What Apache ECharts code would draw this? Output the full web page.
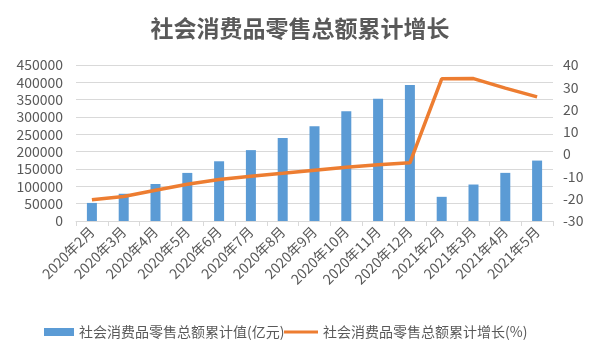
<!DOCTYPE html>
<html><head><meta charset="utf-8">
<script src="https://cdn.jsdelivr.net/npm/echarts@6/dist/echarts.min.js"></script>
<style>html,body{margin:0;padding:0;background:#fff}#c{width:600px;height:360px}</style>
</head><body><div id="c"></div>
<script>
const categories = ['2020年2月','2020年3月','2020年4月','2020年5月','2020年6月','2020年7月','2020年8月','2020年9月','2020年10月','2020年11月','2020年12月','2021年2月','2021年3月','2021年4月','2021年5月'];
const retailValue = [52130, 78580, 106758, 138730, 172256, 204459, 239456, 273324, 316263, 352365, 391981, 69737, 105221, 138849, 174319];
const retailGrowth = [-20.5, -19.0, -16.2, -13.5, -11.4, -9.9, -8.6, -7.2, -5.9, -4.8, -3.9, 33.8, 33.9, 29.6, 25.7];
const leftTicks = {min: 0, max: 450000, interval: 50000};
const rightTicks = {min: -30, max: 40, interval: 10};
const seriesNames = ['社会消费品零售总额累计值(亿元)', '社会消费品零售总额累计增长(%)'];
const titleText = '社会消费品零售总额累计增长';

const font = '"Microsoft YaHei","Noto Sans CJK SC",sans-serif';
const txt = {fontSize: 14, color: '#595959', fontFamily: font};
const chart = echarts.init(document.getElementById('c'));
chart.setOption({
  animation: false,
  title: {text: titleText, left: 'center', top: 12,
    textStyle: {fontSize: 23, fontWeight: 'bold', color: '#595959', fontFamily: font}},
  grid: {left: 76, right: 47, top: 65, bottom: 139},
  legend: [
    {left: 39, bottom: 16, itemWidth: 30, itemHeight: 8, itemGap: 4, textStyle: txt,
      data: [{name: seriesNames[0], icon: 'rect'}]},
    {left: 279, bottom: 16, itemWidth: 34, itemHeight: 3, itemGap: 4, textStyle: txt,
      data: [{name: seriesNames[1], icon: 'rect'}]}
  ],
  xAxis: {type: 'category', data: categories,
    axisLine: {lineStyle: {color: '#d9d9d9'}},
    axisTick: {show: true, length: 5, lineStyle: {color: '#d9d9d9'}},
    axisLabel: Object.assign({rotate: 45, margin: 8, interval: 0}, txt)},
  yAxis: [
    {type: 'value', min: leftTicks.min, max: leftTicks.max, interval: leftTicks.interval,
      axisLabel: Object.assign({margin: 13, formatter: v => String(v)}, txt),
      splitLine: {lineStyle: {color: '#d9d9d9'}}, axisLine: {show: false}, axisTick: {show: false}},
    {type: 'value', min: rightTicks.min, max: rightTicks.max, interval: rightTicks.interval,
      axisLabel: Object.assign({margin: 10, formatter: v => String(v)}, txt),
      splitLine: {show: false}, axisLine: {show: false}, axisTick: {show: false}}
  ],
  series: [
    {name: seriesNames[0], type: 'bar', data: retailValue, barWidth: 10,
      itemStyle: {color: '#5B9BD5'}},
    {name: seriesNames[1], type: 'line', yAxisIndex: 1, data: retailGrowth,
      symbol: 'none', lineStyle: {width: 3.5, color: '#ED7D31'}, itemStyle: {color: '#ED7D31'}}
  ]
});
</script></body></html>
